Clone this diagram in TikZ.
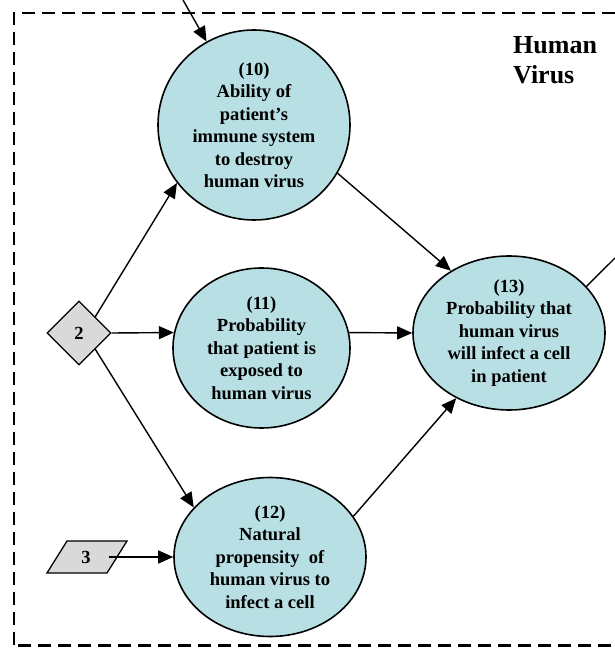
\documentclass[tikz,border=0pt]{standalone}
\usepackage{fontspec}
\setmainfont{Liberation Serif}
\usetikzlibrary{shapes.geometric,arrows.meta,calc}
\definecolor{nodefill}{RGB}{184,224,228}
\definecolor{boxfill}{RGB}{217,217,217}
\begin{document}
\begin{tikzpicture}[x=1pt,y=1pt,
  ell/.style={ellipse, draw, line width=1.6pt, fill=nodefill, inner sep=0pt},
  txt/.style={align=center, inner sep=0pt, font=\fontsize{18.5}{22.5}\selectfont\bfseries},
  arr/.style={line width=1.4pt, -{Triangle[length=15pt,width=13pt]}},
  plainline/.style={line width=1.4pt},
  frame/.style={line width=2.5pt, dash pattern=on 13pt off 7pt},
  grayshape/.style={draw, line width=1.3pt, fill=boxfill},
  title/.style={inner sep=0pt, font=\fontsize{26}{30}\selectfont\bfseries}]
\useasboundingbox (0,0) rectangle (615,648);
% dashed group frame
\draw[frame] (14,2.5) rectangle (640,635);
% title
\node[title, anchor=base west] (hv1) at (513,594) {Human};
\node[title, anchor=base west] (hv2) at (513,564) {Virus};
% ellipses
\node[ell, minimum width=192pt, minimum height=190pt] (e10) at (254,523) {};
\node[txt] (t10) at (e10) {(10)\\Ability of\\patient’s\\immune system\\to destroy\\human virus};
\node[ell, minimum width=177pt, minimum height=160pt] (e11) at (261.5,300) {};
\node[txt] (t11) at (e11) {(11)\\Probability\\that patient is\\exposed to\\human virus};
\node[ell, minimum width=192pt, minimum height=159pt] (e12) at (270,91) {};
\node[txt] (t12) at (e12) {(12)\\Natural\\propensity\ \ of\\human virus to\\infect a cell};
\node[ell, minimum width=192pt, minimum height=154pt] (e13) at (509,315) {};
\node[txt] (t13) at (e13) {(13)\\Probability that\\human virus\\will infect a cell\\in patient};
% diamond 2
\node[diamond, grayshape, minimum width=64pt, minimum height=64pt, inner sep=0pt,
      font=\fontsize{18.5}{22.5}\selectfont\bfseries] (d2) at (79,315) {2};
% parallelogram 3
\coordinate (p3c) at (87,91);
\draw[grayshape] (p3c) ++(-40,-16) -- ++(60,0) -- ++(20,32) -- ++(-60,0) -- cycle;
\node[inner sep=0pt, minimum width=46pt, font=\fontsize{18.5}{22.5}\selectfont\bfseries] (p3) at (86,91) {3};
% free ends
\coordinate (tin) at (183,648);
\coordinate (tout) at (615,390);
% connectors
\draw[arr] (tin) -- (e10);
\draw[arr] (d2.north east) -- (e10.217);
\draw[arr] (d2.east) -- (e11.170);
\draw[arr] (d2.south east) -- (e12.147);
\draw[arr] (p3.east) -- (e12.west);
\draw[arr] (e10.330) -- (e13.133);
\draw[arr] (e11.10) -- (e13.west);
\draw[arr] (e12.26) -- (e13.231);
\draw[plainline] (e13.31) -- (tout);
\end{tikzpicture}
\end{document}
